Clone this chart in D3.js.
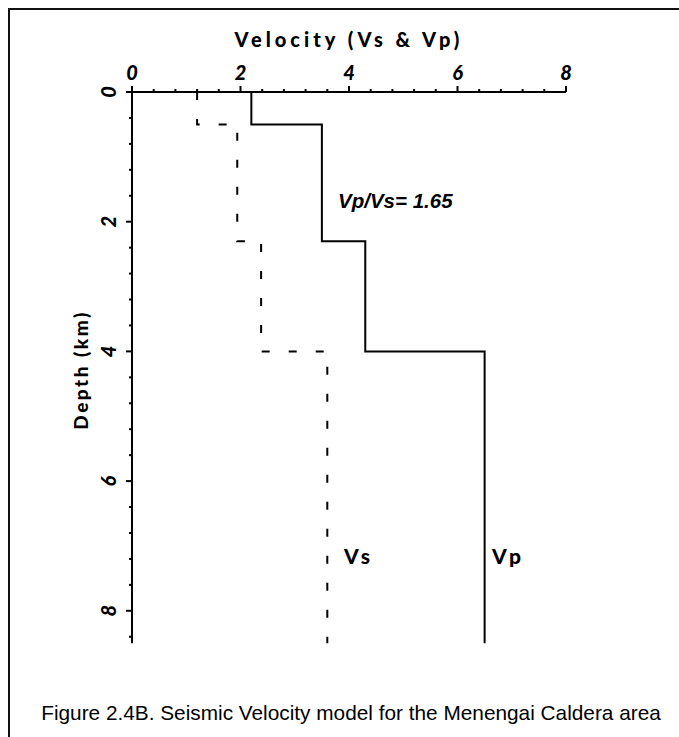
<!DOCTYPE html>
<head>
    <script src="https://d3js.org/d3.v7.min.js"></script>
    <style>
body {
  margin: 0;
  background: #fff;
}
</style>
</head>
<body>
    <svg></svg>
</body>

<script>
    // layer tops (km) and velocities (km/s)
    var layerTops = [0, 0.5, 2.3, 4.0];
    var modelBottom = 8.5;
    var vpValues = [2.2, 3.5, 4.3, 6.5];
    var vsValues = [1.2, 1.94, 2.38, 3.6];
    var velocityTicks = [0, 2, 4, 6, 8];
    var depthTicks = [0, 2, 4, 6, 8];

    var width = 679;
    var height = 737;

    var svg = d3.select('svg')
        .attr('width', width)
        .attr('height', height);

    // frame: top and left edges only
    svg.append('path')
        .attr('d', 'M9,' + height + 'V9H' + width)
        .style('fill', 'none')
        .style('stroke', '#111')
        .style('stroke-width', 2);

    var x = d3.scaleLinear().domain([0, 8]).range([132, 566]);
    var y = d3.scaleLinear().domain([0, 8]).range([92, 610.8]);

    var tickFont = 'Lato, "DejaVu Sans", sans-serif';

    // top axis
    var xAxis = svg.append('g')
        .attr('transform', 'translate(0,' + y(0) + ')');
    xAxis.append('line')
        .attr('x1', x(0)).attr('x2', x(8))
        .style('stroke', '#000').style('stroke-width', 2);
    xAxis.selectAll('.minor')
        .data(d3.range(0, 8.01, 0.4))
        .enter().append('line')
        .attr('x1', function (d) { return x(d); })
        .attr('x2', function (d) { return x(d); })
        .attr('y1', 0)
        .attr('y2', function (d) { return velocityTicks.indexOf(Math.round(d * 10) / 10) !== -1 ? -6 : -3; })
        .style('stroke', '#000').style('stroke-width', 2);
    xAxis.selectAll('text')
        .data(velocityTicks)
        .enter().append('text')
        .attr('x', function (d) { return x(d); })
        .attr('y', -12)
        .attr('text-anchor', 'middle')
        .style('font-family', tickFont)
        .style('font-weight', 900)
        .style('font-style', 'italic')
        .style('font-size', '20px')
        .text(function (d) { return d; });

    // left axis
    var yAxis = svg.append('g')
        .attr('transform', 'translate(' + x(0) + ',0)');
    yAxis.append('line')
        .attr('y1', y(0)).attr('y2', y(modelBottom))
        .style('stroke', '#000').style('stroke-width', 2);
    yAxis.selectAll('.minor')
        .data(d3.range(0, 8.41, 0.4))
        .enter().append('line')
        .attr('y1', function (d) { return y(d); })
        .attr('y2', function (d) { return y(d); })
        .attr('x1', 0)
        .attr('x2', function (d) { return depthTicks.indexOf(Math.round(d * 10) / 10) !== -1 ? -6 : -3; })
        .style('stroke', '#000').style('stroke-width', 2);
    yAxis.selectAll('text')
        .data(depthTicks)
        .enter().append('text')
        .attr('transform', function (d) { return 'translate(-16,' + y(d) + ')rotate(-90)'; })
        .attr('text-anchor', 'middle')
        .style('font-family', tickFont)
        .style('font-weight', 900)
        .style('font-style', 'italic')
        .style('font-size', '20px')
        .text(function (d) { return d; });

    // axis titles
    svg.append('text')
        .attr('x', x(4))
        .attr('y', 47)
        .attr('text-anchor', 'middle')
        .style('font-family', tickFont)
        .style('font-weight', 900)
        .style('font-size', '20px')
        .style('letter-spacing', '4px')
        .text('Velocity (Vs & Vp)');

    svg.append('text')
        .attr('transform', 'translate(88,370)rotate(-90)')
        .attr('text-anchor', 'middle')
        .style('font-family', tickFont)
        .style('font-weight', 900)
        .style('font-size', '19px')
        .style('letter-spacing', '2.5px')
        .text('Depth (km)');

    // step profiles
    function profile(values) {
        var pts = [];
        values.forEach(function (v, i) {
            var bottom = i < values.length - 1 ? layerTops[i + 1] : modelBottom;
            pts.push([v, layerTops[i]]);
            pts.push([v, bottom]);
        });
        return pts;
    }

    var line = d3.line()
        .x(function (d) { return x(d[0]); })
        .y(function (d) { return y(d[1]); });

    svg.append('path')
        .attr('d', line(profile(vpValues)))
        .style('fill', 'none')
        .style('stroke', '#000')
        .style('stroke-width', 2);

    svg.append('path')
        .attr('d', line(profile(vsValues)))
        .style('fill', 'none')
        .style('stroke', '#000')
        .style('stroke-width', 2)
        .style('stroke-dasharray', '8,19');

    // labels
    svg.append('text')
        .attr('x', 344).attr('y', 564)
        .style('font-family', tickFont)
        .style('font-weight', 900)
        .style('font-size', '21px')
        .style('letter-spacing', '3.5px')
        .text('Vs');

    svg.append('text')
        .attr('x', 492).attr('y', 564)
        .style('font-family', tickFont)
        .style('font-weight', 900)
        .style('font-size', '21px')
        .style('letter-spacing', '3.5px')
        .text('Vp');

    svg.append('text')
        .attr('x', 338).attr('y', 208)
        .style('font-family', '"Liberation Sans", Arial, sans-serif')
        .style('font-weight', 'bold')
        .style('font-style', 'italic')
        .style('font-size', '20.5px')
        .text('Vp/Vs= 1.65');

    svg.append('text')
        .attr('x', 351).attr('y', 720)
        .attr('text-anchor', 'middle')
        .style('font-family', '"Liberation Sans", Arial, sans-serif')
        .style('font-size', '20.8px')
        .text('Figure 2.4B. Seismic Velocity model for the Menengai Caldera area');
</script>
